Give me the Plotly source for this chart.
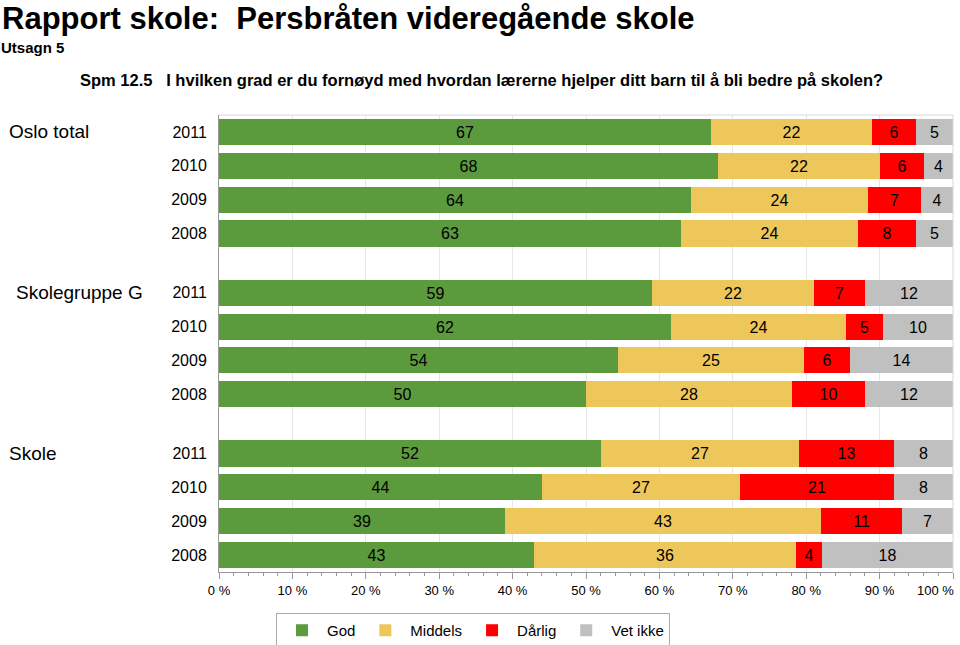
import plotly.graph_objects as go

groups = ["Oslo total", "Skolegruppe G", "Skole"]
years = ["2011", "2010", "2009", "2008"]
# rounded labels shown in the bars
god = [67, 68, 64, 63, 59, 62, 54, 50, 52, 44, 39, 43]
middels = [22, 22, 24, 24, 22, 24, 25, 28, 27, 27, 43, 36]
darlig = [6, 6, 7, 8, 7, 5, 6, 10, 13, 21, 11, 4]
vet_ikke = [5, 4, 4, 5, 12, 10, 14, 12, 8, 8, 7, 18]
# bar lengths (unrounded shares)
god_pct = [67, 68, 64.3, 63, 59, 61.6, 54.4, 50, 52, 44, 39, 42.9]
middels_pct = [22, 22, 24.1, 24, 22, 23.8, 25.3, 28, 27, 27, 43, 35.7]
darlig_pct = [6, 6, 7.2, 8, 7, 5.1, 6.2, 10, 13, 21, 11, 3.6]
vet_ikke_pct = [5, 4, 4.4, 5, 12, 9.5, 14.1, 12, 8, 8, 7, 17.8]
series_names = ["God", "Middels", "Dårlig", "Vet ikke"]
x_ticks = [0, 10, 20, 30, 40, 50, 60, 70, 80, 90, 100]

colors = ["#5B9A3D", "#EEC75B", "#FF0000", "#C0C0C0"]
FONT = "Liberation Sans, Arial, Helvetica, sans-serif"

W, H = 960, 645
L, R, T, B = 219, 7, 115, 73
pw, ph = W - L - R, H - T - B

def px_x(x):
    return (x - L) / pw

def px_y(y):
    return (H - B - y) / ph

GROUP_STEP = 4.75
ypos = []
ylab = []
for g in range(len(groups)):
    for i, yr in enumerate(years):
        ypos.append(g * GROUP_STEP + i)
        ylab.append(yr)

fig = go.Figure()
for name, vals, labels, col in zip(series_names,
                                   [god_pct, middels_pct, darlig_pct, vet_ikke_pct],
                                   [god, middels, darlig, vet_ikke], colors):
    fig.add_trace(go.Bar(
        x=vals, y=ypos, orientation="h", name=name,
        marker=dict(color=col, line=dict(width=0)),
        width=0.77,
        text=[str(v) for v in labels],
        textposition="inside", insidetextanchor="middle",
        constraintext="none",
        textfont=dict(family=FONT, size=16, color="black"),
        hoverinfo="x+name",
    ))

annotations = [
    dict(text="<b>Rapport skole:\u00a0\u00a0Persbråten videregående skole</b>",
         x=px_x(0), y=px_y(18), xref="paper", yref="paper",
         xanchor="left", yanchor="middle", showarrow=False,
         font=dict(family=FONT, size=31, color="black")),
    dict(text="<b>Utsagn 5</b>",
         x=px_x(-1), y=px_y(47), xref="paper", yref="paper",
         xanchor="left", yanchor="middle", showarrow=False,
         font=dict(family=FONT, size=15, color="black")),
    dict(text="<b>Spm 12.5\u00a0\u00a0\u00a0I hvilken grad er du fornøyd med hvordan lærerne hjelper ditt barn til å bli bedre på skolen?</b>",
         x=px_x(78), y=px_y(80), xref="paper", yref="paper",
         xanchor="left", yanchor="middle", showarrow=False,
         font=dict(family=FONT, size=16.5, color="black")),
    dict(text="100 %", x=100, y=px_y(590), xref="x", yref="paper",
         xanchor="right", yanchor="middle", showarrow=False, xshift=3,
         font=dict(family=FONT, size=13, color="black")),
]
for g, (gname, gx) in enumerate(zip(groups, [7, 14, 7])):
    annotations.append(dict(
        text=gname, x=px_x(gx), y=g * GROUP_STEP, xref="paper", yref="y",
        xanchor="left", yanchor="middle", showarrow=False,
        font=dict(family=FONT, size=19, color="black")))

fig.update_layout(
    width=W, height=H,
    margin=dict(l=L, r=R, t=T, b=B, autoexpand=False),
    barmode="stack", bargap=0,
    plot_bgcolor="white", paper_bgcolor="white",
    font=dict(family=FONT, color="black"),
    showlegend=True,
    legend=dict(orientation="h", x=473 / W, xanchor="center", xref="container",
                y=1 - 613 / H, yanchor="top", yref="container",
                bordercolor="#AAAAAA", borderwidth=1,
                font=dict(family=FONT, size=15, color="black"),
                traceorder="normal", itemwidth=40),
    annotations=annotations,
    uniformtext=dict(minsize=16, mode="show"),
)
fig.update_xaxes(
    range=[0, 100], tickvals=x_ticks,
    ticktext=[f"{v} %" if v < 100 else "" for v in x_ticks],
    showgrid=True, gridcolor="#E6E6E6", gridwidth=1,
    showline=True, linecolor="#999999", mirror=False,
    ticks="outside", ticklen=6, tickcolor="#999999",
    minor=dict(dtick=2, ticks="outside", ticklen=3, tickcolor="#999999", showgrid=False),
    tickfont=dict(family=FONT, size=13, color="black"),
    zeroline=False, fixedrange=True, automargin=False,
)
fig.update_yaxes(
    range=[13.0, -0.5], tickvals=ypos, ticktext=ylab,
    showgrid=False, zeroline=False,
    showline=True, linecolor="#999999",
    ticks="", ticklabelstandoff=8,
    tickfont=dict(family=FONT, size=16, color="black"),
    fixedrange=True, automargin=False,
)
fig.add_shape(type="line", xref="paper", yref="paper", x0=0, x1=1, y0=1, y1=1,
              line=dict(color="#D8D8D8", width=1))
fig.add_shape(type="line", xref="paper", yref="paper", x0=1, x1=1, y0=0, y1=1,
              line=dict(color="#D8D8D8", width=1))

fig.write_html("out.html", config={"displayModeBar": False},
               post_script="document.body.style.margin='0';document.body.style.overflow='hidden';")
